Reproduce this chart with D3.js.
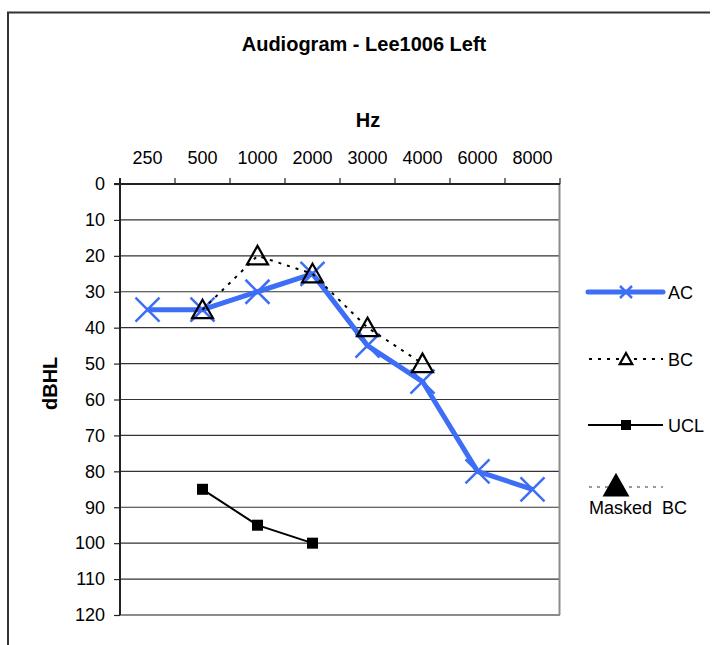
<!DOCTYPE html>
<html>
<head>
<meta charset="utf-8">
<script src="https://cdn.jsdelivr.net/npm/d3@7/dist/d3.min.js"></script>
<style>
  html, body { margin: 0; padding: 0; background: #fff; }
  svg { display: block; font-family: "Liberation Sans", Arial, sans-serif; }
</style>
</head>
<body>
<svg id="chart" width="712" height="645"></svg>
<script>
// Test frequencies (Hz) and hearing thresholds (dB HL), left ear
const frequencies = ["250", "500", "1000", "2000", "3000", "4000", "6000", "8000"];
const acValues = [35, 35, 30, 25, 45, 55, 80, 85];
const bcValues = [null, 35, 20, 25, 40, 50, null, null];
const uclValues = [null, 85, 95, 100, null, null, null, null];
const maskedBcValues = [null, null, null, null, null, null, null, null];
const dbTicks = [0, 10, 20, 30, 40, 50, 60, 70, 80, 90, 100, 110, 120];

const svg = d3.select("#chart");

// outer chart frame
svg.append("path")
  .attr("d", "M8,650 L8,12.5 L710,12.5")
  .attr("fill", "none").attr("stroke", "#333").attr("stroke-width", 2);

svg.append("text").attr("x", 364).attr("y", 51)
  .attr("text-anchor", "middle").attr("font-weight", "bold").attr("font-size", 20)
  .text("Audiogram - Lee1006 Left");

const x = d3.scaleBand().domain(frequencies).range([120, 560]).padding(0);
const y = d3.scaleLinear().domain([0, 120]).range([184, 615]);
const cx = f => x(f) + x.bandwidth() / 2;

// horizontal gridlines
svg.append("g").selectAll("line").data(dbTicks.filter(d => d > 0 && d < 120)).join("line")
  .attr("x1", 120).attr("x2", 559).attr("y1", d => y(d)).attr("y2", d => y(d))
  .attr("stroke", "#333").attr("stroke-width", 1.2);

// plot border: bottom and right in grey
svg.append("line").attr("x1", 120).attr("x2", 560).attr("y1", y(120)).attr("y2", y(120))
  .attr("stroke", "#8c8c8c").attr("stroke-width", 2);
svg.append("line").attr("x1", 559.5).attr("x2", 559.5).attr("y1", y(0)).attr("y2", y(120))
  .attr("stroke", "#8c8c8c").attr("stroke-width", 2);

// top category axis (frequency)
const xAxis = d3.axisTop(x).tickSize(0).tickPadding(0).tickFormat("");
const gx = svg.append("g").attr("transform", `translate(0,${y(0)})`).call(xAxis);
gx.select(".domain").remove();
svg.append("line").attr("x1", 114).attr("x2", 560).attr("y1", y(0)).attr("y2", y(0))
  .attr("stroke", "#222").attr("stroke-width", 2);
const boundaries = frequencies.map(f => x(f)).concat([x(frequencies[frequencies.length - 1]) + x.bandwidth()]);
svg.append("g").selectAll("line").data(boundaries.slice(1)).join("line")
  .attr("x1", d => d).attr("x2", d => d).attr("y1", y(0) - 6).attr("y2", y(0))
  .attr("stroke", "#222").attr("stroke-width", 1.2);
svg.append("g").selectAll("text").data(frequencies).join("text")
  .attr("x", d => cx(d)).attr("y", 164).attr("text-anchor", "middle").attr("font-size", 18)
  .text(d => d);
svg.append("text").attr("x", 368).attr("y", 127).attr("text-anchor", "middle")
  .attr("font-weight", "bold").attr("font-size", 20).text("Hz");

// left dB axis
const yAxis = d3.axisLeft(y).tickValues(dbTicks).tickSize(6).tickPadding(9);
const gy = svg.append("g").attr("transform", "translate(120,0)").call(yAxis);
gy.select(".domain").attr("stroke", "#222").attr("stroke-width", 2).attr("d", `M0,${y(0) - 6}V${y(120)}`);
gy.selectAll(".tick line").attr("stroke", "#222").attr("stroke-width", 1.2);
gy.selectAll(".tick text").attr("font-size", 18).attr("fill", "#000")
  .attr("font-family", "Liberation Sans, Arial, sans-serif");
svg.append("text").attr("transform", `translate(57,${y(55.5)}) rotate(-90)`)
  .attr("text-anchor", "middle").attr("font-weight", "bold").attr("font-size", 20).text("dBHL");

const blue = "#3d6ef5";
const line = d3.line().defined(d => d.v != null).x(d => cx(d.f)).y(d => y(d.v));
const pts = vals => frequencies.map((f, i) => ({ f, v: vals[i] }));

// marker drawers
const drawX = (g, px, py, s) => g.append("path")
  .attr("d", `M${px - s},${py - s}L${px + s},${py + s}M${px - s},${py + s}L${px + s},${py - s}`)
  .attr("stroke", blue).attr("stroke-width", 2.5).attr("fill", "none");
const drawTri = (g, px, py, s, fill) => g.append("path")
  .attr("d", `M${px},${py - s}L${px + s * 1.05},${py + s * 0.85}L${px - s * 1.05},${py + s * 0.85}Z`)
  .attr("stroke", "#000").attr("stroke-width", 2.2).attr("fill", fill);
const drawSq = (g, px, py, s) => g.append("rect")
  .attr("x", px - s).attr("y", py - s).attr("width", 2 * s).attr("height", 2 * s).attr("fill", "#000");

// UCL
const gU = svg.append("g");
gU.append("path").datum(pts(uclValues)).attr("d", line)
  .attr("fill", "none").attr("stroke", "#000").attr("stroke-width", 2);
pts(uclValues).filter(d => d.v != null).forEach(d => drawSq(gU, cx(d.f), y(d.v), 5.5));

// AC
const gA = svg.append("g");
gA.append("path").datum(pts(acValues)).attr("d", line)
  .attr("fill", "none").attr("stroke", blue).attr("stroke-width", 5).attr("stroke-linejoin", "round");
pts(acValues).forEach(d => drawX(gA, cx(d.f), y(d.v), 12));

// BC
const gB = svg.append("g");
gB.append("path").datum(pts(bcValues)).attr("d", line)
  .attr("fill", "none").attr("stroke", "#000").attr("stroke-width", 2).attr("stroke-dasharray", "3,6");
pts(bcValues).filter(d => d.v != null).forEach(d => drawTri(gB, cx(d.f), y(d.v), 10, "none"));

// Masked BC
const gM = svg.append("g");
gM.append("path").datum(pts(maskedBcValues)).attr("d", line)
  .attr("fill", "none").attr("stroke", "#000").attr("stroke-dasharray", "2,4");
pts(maskedBcValues).filter(d => d.v != null).forEach(d => drawTri(gM, cx(d.f), y(d.v), 10, "#000"));

// legend
const lg = svg.append("g");
// AC
lg.append("line").attr("x1", 588).attr("x2", 663).attr("y1", 292).attr("y2", 292)
  .attr("stroke", blue).attr("stroke-width", 5).attr("stroke-linecap", "round");
drawX(lg, 626, 292, 6);
lg.append("text").attr("x", 668).attr("y", 298.5).attr("font-size", 18).text("AC");
// BC
lg.append("line").attr("x1", 589).attr("x2", 663).attr("y1", 359).attr("y2", 359)
  .attr("stroke", "#000").attr("stroke-width", 2).attr("stroke-dasharray", "3,6");
drawTri(lg, 626, 359, 6, "#fff");
lg.append("text").attr("x", 668).attr("y", 365.5).attr("font-size", 18).text("BC");
// UCL
lg.append("line").attr("x1", 588).attr("x2", 663).attr("y1", 425).attr("y2", 425)
  .attr("stroke", "#000").attr("stroke-width", 2);
drawSq(lg, 626, 425, 5);
lg.append("text").attr("x", 668).attr("y", 431.5).attr("font-size", 18).text("UCL");
// Masked BC
lg.append("line").attr("x1", 589).attr("x2", 663).attr("y1", 487).attr("y2", 487)
  .attr("stroke", "#333").attr("stroke-width", 1).attr("stroke-dasharray", "3,5");
drawTri(lg, 616, 486, 11, "#000");
lg.append("text").attr("x", 589).attr("y", 514).attr("font-size", 18).text("Masked  BC")
  .attr("xml:space", "preserve").style("white-space", "pre");
</script>
</body>
</html>
